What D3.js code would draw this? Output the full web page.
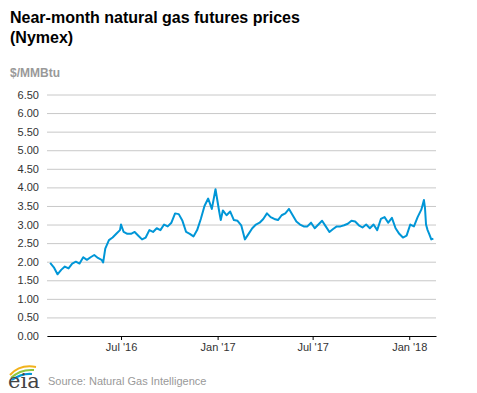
<!DOCTYPE html>
<html>
<head>
<meta charset="utf-8">
<script src="https://cdn.jsdelivr.net/npm/d3@7"></script>
<style>
  body { margin: 0; background: #fff; }
  svg { font-family: Arial, "Liberation Sans", sans-serif; }
</style>
</head>
<body>
<div id="chart"></div>
<script>
// near-month prices
const dates = [
  "2016-02-17","2016-02-24","2016-03-02","2016-03-09","2016-03-16","2016-03-23","2016-03-30",
  "2016-04-06","2016-04-13","2016-04-20","2016-04-27","2016-05-04","2016-05-11","2016-05-18",
  "2016-05-25","2016-05-28","2016-06-01","2016-06-08","2016-06-15","2016-06-22","2016-06-29",
  "2016-07-01","2016-07-06","2016-07-13","2016-07-20","2016-07-27","2016-08-03","2016-08-10",
  "2016-08-17","2016-08-24","2016-08-31","2016-09-07","2016-09-14","2016-09-21","2016-09-28",
  "2016-10-05","2016-10-12","2016-10-19","2016-10-26","2016-11-02","2016-11-09","2016-11-16",
  "2016-11-23","2016-11-30","2016-12-07","2016-12-14","2016-12-21","2016-12-28","2017-01-04",
  "2017-01-07","2017-01-11","2017-01-18","2017-01-25","2017-02-01","2017-02-08","2017-02-15",
  "2017-02-22","2017-03-01","2017-03-08","2017-03-15","2017-03-22","2017-03-29","2017-04-05",
  "2017-04-12","2017-04-19","2017-04-26","2017-05-03","2017-05-10","2017-05-17","2017-05-24",
  "2017-05-31","2017-06-07","2017-06-14","2017-06-21","2017-06-28","2017-07-05","2017-07-12",
  "2017-07-19","2017-07-26","2017-08-02","2017-08-09","2017-08-16","2017-08-23","2017-08-30",
  "2017-09-06","2017-09-13","2017-09-20","2017-09-27","2017-10-04","2017-10-11","2017-10-18",
  "2017-10-25","2017-11-01","2017-11-08","2017-11-15","2017-11-22","2017-11-29","2017-12-06",
  "2017-12-13","2017-12-20","2017-12-27","2018-01-03","2018-01-10","2018-01-17","2018-01-24",
  "2018-01-26","2018-01-29","2018-01-31","2018-02-02","2018-02-05","2018-02-08","2018-02-12",
  "2018-02-16"
];
const prices = [
  1.97,1.85,1.66,1.78,1.87,1.82,1.95,
  2.00,1.95,2.12,2.05,2.12,2.18,2.10,
  2.05,1.98,2.35,2.58,2.65,2.75,2.85,
  3.00,2.80,2.75,2.75,2.80,2.70,2.60,
  2.65,2.85,2.80,2.90,2.85,3.00,2.95,
  3.05,3.30,3.28,3.10,2.80,2.75,2.68,
  2.85,3.15,3.50,3.70,3.42,3.95,3.35,
  3.12,3.38,3.25,3.35,3.12,3.10,2.98,
  2.60,2.75,2.90,3.00,3.05,3.15,3.30,
  3.20,3.15,3.12,3.25,3.30,3.42,3.25,
  3.08,3.00,2.95,2.95,3.05,2.90,3.00,
  3.10,2.95,2.80,2.88,2.95,2.95,2.98,
  3.02,3.10,3.08,2.98,2.92,3.00,2.90,
  3.00,2.85,3.15,3.20,3.05,3.18,2.90,
  2.75,2.65,2.70,3.00,2.95,3.20,3.40,
  3.50,3.66,3.45,3.00,2.85,2.75,2.60,
  2.62
];
const yTicks = [0,0.5,1,1.5,2,2.5,3,3.5,4,4.5,5,5.5,6,6.5];
const xTicks = ["2016-07-01","2017-01-01","2017-07-01","2018-01-01"];
const titleLines = ["Near-month natural gas futures prices","(Nymex)"];
const unitLabel = "$/MMBtu";
const sourceLabel = "Source: Natural Gas Intelligence";

const W = 477, H = 393;
// plot box
const plotL = 47, plotR = 436, plotT = 94.5, plotB = 336;
const parse = d3.timeParse("%Y-%m-%d");

const svg = d3.select("#chart").append("svg")
  .attr("width", W)
  .attr("height", H);

const x = d3.scaleTime()
  .domain([parse("2016-02-11"), parse("2018-02-21")])
  .range([plotL, plotR]);
const y = d3.scaleLinear()
  .domain([0, 6.5])
  .range([plotB, plotT]);

// title
svg.selectAll(".title")
  .data(titleLines)
  .enter()
  .append("text")
  .attr("x", 10)
  .attr("y", (d, i) => 23 + i * 20)
  .attr("font-size", "16px")
  .attr("font-weight", "bold")
  .attr("fill", "#000")
  .text(d => d);

// units
svg.append("text")
  .attr("x", 10)
  .attr("y", 77)
  .attr("font-size", "12px")
  .attr("font-weight", "bold")
  .attr("fill", "#999")
  .text(unitLabel);

// gridlines + y labels
const yAxis = svg.append("g")
  .attr("transform", "translate(" + plotL + ",0)")
  .call(d3.axisLeft(y).tickValues(yTicks).tickFormat(d3.format(".2f")).tickSize(-(plotR - plotL)).tickPadding(8));
yAxis.select(".domain").remove();
yAxis.selectAll(".tick line").attr("stroke", "#c8c8c8").attr("stroke-width", 1);
yAxis.selectAll(".tick text")
  .attr("font-size", "11px")
  .attr("fill", "#333")
  .attr("font-family", "Arial, 'Liberation Sans', sans-serif");

// x axis (black base line)
const fmt = d3.timeFormat("%b '%y");
const xAxis = svg.append("g")
  .attr("transform", "translate(0," + plotB + ")")
  .call(d3.axisBottom(x).tickValues(xTicks.map(parse)).tickFormat(fmt).tickSize(4).tickSizeOuter(0).tickPadding(3));
xAxis.select(".domain").attr("stroke", "#000").attr("stroke-width", 1.2);
xAxis.selectAll(".tick line").attr("stroke", "#000");
xAxis.selectAll(".tick text")
  .attr("font-size", "11px")
  .attr("fill", "#333")
  .attr("font-family", "Arial, 'Liberation Sans', sans-serif");

// price line
const series = dates.map((d, i) => [parse(d), prices[i]]);
const line = d3.line()
  .x(d => x(d[0]))
  .y(d => y(d[1]));
svg.append("path")
  .datum(series)
  .attr("d", line)
  .attr("fill", "none")
  .attr("stroke", "#0096d7")
  .attr("stroke-width", 2)
  .attr("stroke-linejoin", "round");

// eia logo, rough
const logo = svg.append("g").attr("transform", "translate(8,366)");
logo.append("path")
  .attr("d", "M2,9 Q12,-2 28,1")
  .attr("fill", "none").attr("stroke", "#f2b21b").attr("stroke-width", 2);
logo.append("path")
  .attr("d", "M3,12 Q12,3 26,4")
  .attr("fill", "none").attr("stroke", "#8cc63f").attr("stroke-width", 2);
logo.append("path")
  .attr("d", "M4,14 Q14,7 24,8")
  .attr("fill", "none").attr("stroke", "#0096d7").attr("stroke-width", 2);
logo.append("text")
  .attr("x", 0)
  .attr("y", 22)
  .attr("font-family", "'DejaVu Serif', 'Liberation Serif', serif")
  .attr("font-size", "21px")
  .attr("fill", "#444")
  .text("eia");

// source
svg.append("text")
  .attr("x", 48)
  .attr("y", 385)
  .attr("font-size", "11px")
  .attr("fill", "#999")
  .text(sourceLabel);
</script>
</body>
</html>
